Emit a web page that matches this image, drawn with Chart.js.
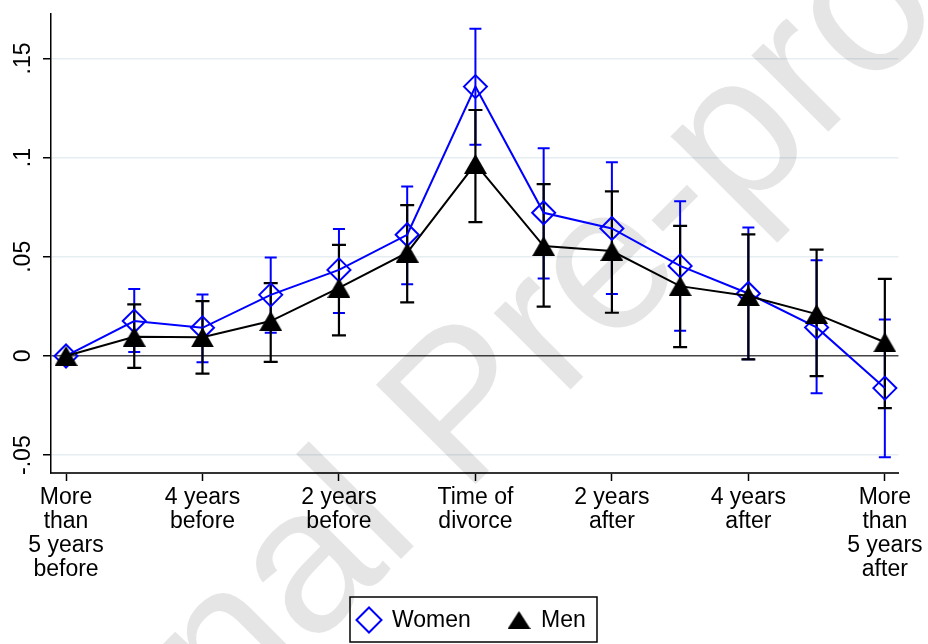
<!DOCTYPE html>
<html>
<head>
<meta charset="utf-8">
<script src="https://cdn.jsdelivr.net/npm/chart.js@4.4.0/dist/chart.umd.min.js"></script>
<style>
  html, body { margin: 0; padding: 0; background: #fff; }
  #chart { display: block; }
</style>
</head>
<body>
<canvas id="chart" width="928" height="644"></canvas>
<script>
// event time around divorce: 0 = more than 5 years before ... 12 = more than 5 years after
const periods = [0, 1, 2, 3, 4, 5, 6, 7, 8, 9, 10, 11, 12];

const xTickPositions = [0, 2, 4, 6, 8, 10, 12];
const xTickLabels = [
    ['More', 'than', '5 years', 'before'],
    ['4 years', 'before'],
    ['2 years', 'before'],
    ['Time of', 'divorce'],
    ['2 years', 'after'],
    ['4 years', 'after'],
    ['More', 'than', '5 years', 'after']
];

const yTickValues = [-0.05, 0, 0.05, 0.1, 0.15];
const yTickLabels = ['-.05', '0', '.05', '.1', '.15'];

const women = [0, 0.0176, 0.0142, 0.0308, 0.0434, 0.0611, 0.1358, 0.0722, 0.0643, 0.0454, 0.0315, 0.0144, -0.0162];
const womenLow = [null, 0.0020, -0.0032, 0.0117, 0.0216, 0.0362, 0.1065, 0.0390, 0.0312, 0.0127, -0.0017, -0.0188, -0.0511];
const womenHigh = [null, 0.0337, 0.0310, 0.0497, 0.0640, 0.0854, 0.1650, 0.1047, 0.0976, 0.0780, 0.0648, 0.0482, 0.0184];

const men = [0, 0.0097, 0.0094, 0.0176, 0.0343, 0.0521, 0.0968, 0.0554, 0.0529, 0.0352, 0.0302, 0.0211, 0.0069];
const menLow = [null, -0.0060, -0.0089, -0.0030, 0.0104, 0.0270, 0.0675, 0.0249, 0.0218, 0.0045, -0.0017, -0.0102, -0.0263];
const menHigh = [null, 0.0260, 0.0276, 0.0367, 0.0560, 0.0760, 0.1240, 0.0866, 0.0830, 0.0656, 0.0613, 0.0536, 0.0389];

const FONT = '"Liberation Sans", Arial, Helvetica, sans-serif';

// Stata centres its triangle on the box, not on the circumcentre like Chart.js does
function makeTriangle(w, h) {
    const c = document.createElement('canvas');
    c.width = w;
    c.height = h;
    const g = c.getContext('2d');
    g.fillStyle = '#000';
    g.beginPath();
    g.moveTo(w / 2, 0);
    g.lineTo(w, h);
    g.lineTo(0, h);
    g.closePath();
    g.fill();
    return c;
}
const triangleMarker = makeTriangle(23, 20);
const triangleLegend = makeTriangle(23, 18);

// light diagonal watermark behind the data
const watermark = {
    id: 'watermark',
    beforeDatasetsDraw(chart) {
        const ctx = chart.ctx;
        ctx.save();
        ctx.translate(-52, 1012);
        ctx.rotate(-Math.PI / 4);
        ctx.font = '205px ' + FONT;
        ctx.fillStyle = 'rgba(0, 0, 0, 0.1)';
        ctx.textBaseline = 'alphabetic';
        ctx.fillText('Journal Pre-proof', 0, 0);
        ctx.restore();
    }
};

// confidence interval caps, drawn through the chart scales
const errorBars = {
    id: 'errorBars',
    beforeDatasetsDraw(chart) {
        const { ctx, scales: { x, y } } = chart;
        chart.data.datasets.forEach(ds => {
            ctx.save();
            ctx.strokeStyle = ds.borderColor;
            ctx.lineWidth = ds.errWidth;
            ds.errLow.forEach((lo, i) => {
                const hi = ds.errHigh[i];
                if (lo == null || hi == null) return;
                const px = x.getPixelForValue(periods[i]);
                const pLo = y.getPixelForValue(lo);
                const pHi = y.getPixelForValue(hi);
                const half = ds.capWidth / 2;
                ctx.beginPath();
                ctx.moveTo(px, pLo); ctx.lineTo(px, pHi);
                ctx.moveTo(px - half, pLo); ctx.lineTo(px + half, pLo);
                ctx.moveTo(px - half, pHi); ctx.lineTo(px + half, pHi);
                ctx.stroke();
            });
            ctx.restore();
        });
    }
};

// boxed legend under the axis, Stata style
const boxLegend = {
    id: 'boxLegend',
    afterDraw(chart) {
        const ctx = chart.ctx;
        const items = [
            { ds: chart.data.datasets[0], sx: 369, tx: 392, radius: 12.5, style: 'rectRot' },
            { ds: chart.data.datasets[1], sx: 519, tx: 541, radius: 11, style: triangleLegend }
        ];
        const cy = 620;
        ctx.save();
        ctx.strokeStyle = '#000';
        ctx.lineWidth = 1.5;
        ctx.strokeRect(350, 597, 247, 45);
        items.forEach(item => {
            ctx.fillStyle = item.ds.pointBackgroundColor;
            ctx.strokeStyle = item.ds.pointBorderColor;
            ctx.lineWidth = item.ds.pointBorderWidth;
            Chart.helpers.drawPoint(ctx, {
                pointStyle: item.style,
                radius: item.radius,
                borderWidth: item.ds.pointBorderWidth,
                rotation: 0
            }, item.sx, cy);
            ctx.fillStyle = '#000';
            ctx.font = '23px ' + FONT;
            ctx.textBaseline = 'middle';
            ctx.textAlign = 'left';
            ctx.fillText(item.ds.label, item.tx, cy + 1);
        });
        ctx.restore();
    }
};

new Chart(document.getElementById('chart'), {
    type: 'line',
    data: {
        datasets: [{
            label: 'Women',
            data: periods.map((p, i) => ({ x: p, y: women[i] })),
            borderColor: '#0000ff',
            backgroundColor: 'rgba(0, 0, 0, 0)',
            borderWidth: 2,
            tension: 0,
            pointStyle: 'rectRot',
            pointRadius: 11.5,
            pointBorderWidth: 2,
            pointBorderColor: '#0000ff',
            pointBackgroundColor: 'rgba(0, 0, 0, 0)',
            order: 1,
            errLow: womenLow,
            errHigh: womenHigh,
            errWidth: 2,
            capWidth: 12
        }, {
            label: 'Men',
            data: periods.map((p, i) => ({ x: p, y: men[i] })),
            borderColor: '#000000',
            backgroundColor: '#000000',
            borderWidth: 2,
            tension: 0,
            pointStyle: triangleMarker,
            pointRadius: 12,
            pointBorderWidth: 0,
            pointBorderColor: '#000000',
            pointBackgroundColor: '#000000',
            order: 0,
            errLow: menLow,
            errHigh: menHigh,
            errWidth: 2.2,
            capWidth: 14
        }]
    },
    options: {
        responsive: false,
        animation: false,
        layout: { padding: { top: 13, right: 28, bottom: 0, left: 0 } },
        plugins: {
            legend: { display: false },
            tooltip: { enabled: false }
        },
        scales: {
            x: {
                type: 'linear',
                min: -0.22,
                max: 12.2,
                afterBuildTicks: scale => {
                    scale.ticks = xTickPositions.map(v => ({ value: v }));
                },
                afterFit: scale => { scale.height = 171; },
                ticks: {
                    autoSkip: false,
                    minRotation: 0,
                    maxRotation: 0,
                    padding: 5,
                    color: '#000',
                    font: { family: FONT, size: 23, lineHeight: 24 / 23 },
                    callback: value => xTickLabels[xTickPositions.indexOf(value)]
                },
                grid: {
                    drawOnChartArea: false,
                    tickLength: 8,
                    tickColor: '#000',
                    tickWidth: 1.5
                },
                border: { color: '#333', width: 2 }
            },
            y: {
                min: -0.059,
                max: 0.1725,
                afterBuildTicks: scale => {
                    scale.ticks = yTickValues.map(v => ({ value: v }));
                },
                afterFit: scale => { scale.width = 51; },
                ticks: {
                    minRotation: 90,
                    maxRotation: 90,
                    crossAlign: 'center',
                    padding: 0,
                    color: '#000',
                    font: { family: FONT, size: 23 },
                    callback: value => yTickLabels[yTickValues.indexOf(value)]
                },
                grid: {
                    color: ctx => (ctx.tick && ctx.tick.value === 0) ? '#444' : '#e6eef2',
                    lineWidth: 1.5,
                    tickLength: 8,
                    tickColor: '#000',
                    tickWidth: 1.5
                },
                border: { color: '#000', width: 1.5 }
            }
        }
    },
    plugins: [watermark, errorBars, boxLegend]
});
</script>
</body>
</html>
